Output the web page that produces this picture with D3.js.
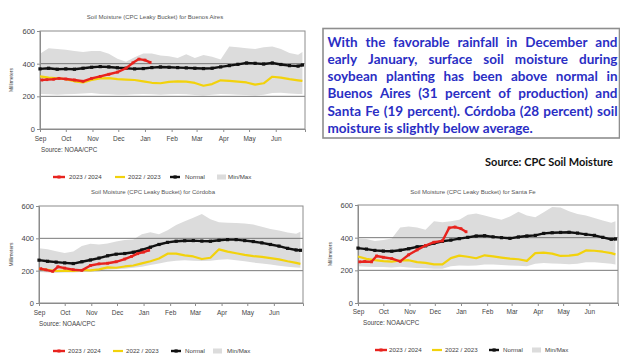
<!DOCTYPE html>
<html>
<head>
<meta charset="utf-8">
<script src="https://cdn.jsdelivr.net/npm/d3@7"></script>
<style>
  body { margin: 0; background: #fff; }
  svg { display: block; }
</style>
</head>
<body>
<svg id="chart" width="620" height="354"></svg>
<script>
// Season axis: days counted from 1 September
const monthTicks = [0, 30, 61, 91, 122, 153, 182, 213, 243, 274];
const monthLabels = ["Sep", "Oct", "Nov", "Dec", "Jan", "Feb", "Mar", "Apr", "May", "Jun"];
const valueTicks = [0, 200, 400, 600];
const seriesLabels = ["2023 / 2024", "2022 / 2023", "Normal", "Min/Max"];

// Sample days for the climatology and the previous season
const seasonDays = [0, 10, 20, 30, 40, 50, 60, 70, 80, 90, 100, 110, 120, 130, 140, 150,
                    160, 170, 180, 190, 200, 210, 220, 230, 240, 250, 260, 270, 280, 290, 300, 305];
// Sample days for the current season (runs to early January)
const currentDays = [2, 8, 16, 22, 30, 40, 50, 60, 70, 80, 90, 100, 108, 115, 122, 128];

// Buenos Aires (mm)
const baMax    = [460,495,490,485,478,472,478,478,460,430,412,440,462,462,450,445,435,457,435,453,443,425,505,500,495,490,500,505,490,465,455,472];
const baMin    = [215,212,210,212,215,218,220,215,212,210,210,212,215,212,210,212,215,212,208,205,210,215,212,210,208,205,210,220,222,218,215,215];
const baNormal = [368,372,366,368,366,372,378,382,380,375,372,368,370,376,380,378,376,374,372,370,372,380,388,396,404,402,398,404,395,388,385,392];
const baPrev   = [322,315,310,305,292,285,300,310,312,305,302,300,292,283,280,288,292,290,282,265,275,298,295,290,285,272,280,320,315,305,298,295];
const baCurrent = [300,302,305,310,306,300,292,310,322,335,348,372,405,428,422,408];

// Córdoba (mm)
const cbMax    = [338,332,320,310,318,352,366,362,368,380,390,393,425,438,425,450,482,505,528,550,518,500,496,495,492,485,472,458,448,436,428,440];
const cbMin    = [192,188,185,188,188,192,192,195,205,208,212,218,225,235,245,255,262,265,262,260,262,268,270,265,258,250,245,238,230,225,220,218];
const cbNormal = [265,258,253,248,244,255,266,278,292,302,306,314,328,345,362,375,382,385,386,383,382,388,392,392,386,380,372,362,352,338,328,326];
const cbPrev   = [212,205,198,200,198,204,202,208,220,218,226,232,245,258,275,305,305,295,288,272,280,332,318,308,298,290,285,278,270,258,248,242];
const cbCurrent = [212,205,196,224,216,206,202,232,242,246,255,272,288,305,315,326];

// Santa Fe (mm)
const sfMax    = [395,392,380,385,395,462,468,462,448,500,495,500,510,540,548,535,522,510,530,558,535,525,555,588,585,562,545,535,520,505,492,500];
const sfMin    = [225,222,220,220,218,222,218,215,212,210,210,225,230,228,230,235,235,232,230,228,225,240,245,242,240,238,240,250,250,245,240,235];
const sfNormal = [336,330,322,318,317,323,332,344,350,366,378,385,394,402,410,412,405,400,396,404,410,414,426,430,432,433,428,420,414,402,390,392];
const sfPrev   = [285,270,262,256,253,260,262,250,246,236,236,275,290,283,274,292,285,278,272,268,258,305,308,302,288,290,296,322,320,314,305,298];
const sfCurrent = [252,254,252,288,280,272,255,295,325,352,372,380,460,465,455,436];

const noteLines = [
  "With the favorable rainfall in December and",
  "early January, surface soil moisture during",
  "soybean planting has been above normal in",
  "Buenos Aires (31 percent of production) and",
  "Santa Fe (19 percent). Córdoba (28 percent) soil",
  "moisture is slightly below average."
];

const COLORS = { current: "#e8231e", prev: "#f2d20c", normal: "#111", band: "#dcdcdc", grid: "#7a7a7a", frame: "#8c8c8c", text: "#444" };
const AXIS_FONT = "'Liberation Sans', Arial, sans-serif";

const panels = [
  {
    title: "Soil Moisture (CPC Leaky Bucket) for Buenos Aires",
    max: baMax, min: baMin, normal: baNormal, prev: baPrev, current: baCurrent,
    left: 40, right: 305, top: 31, bottom: 129,
    titleX: 155, titleY: 17, monthY: 139, sourceX: 41, sourceY: 150, yLabelX: 12,
    legendY: 177, legendSym: [53, 115, 170, 217], legendText: [69, 128, 185, 228]
  },
  {
    title: "Soil Moisture (CPC Leaky Bucket) for Córdoba",
    max: cbMax, min: cbMin, normal: cbNormal, prev: cbPrev, current: cbCurrent,
    left: 39, right: 303, top: 206, bottom: 303,
    titleX: 153, titleY: 192, monthY: 313, sourceX: 39, sourceY: 324, yLabelX: 12,
    legendY: 351, legendSym: [53, 113, 171, 213], legendText: [68, 126, 185, 227]
  },
  {
    title: "Soil Moisture (CPC Leaky Bucket) for Santa Fe",
    max: sfMax, min: sfMin, normal: sfNormal, prev: sfPrev, current: sfCurrent,
    left: 358, right: 618, top: 205, bottom: 303,
    titleX: 473, titleY: 192, monthY: 312, sourceX: 363, sourceY: 323, yLabelX: 331,
    legendY: 350, legendSym: [375, 432, 489, 532], legendText: [389, 445, 503, 545]
  }
];

const svg = d3.select("#chart");

function drawPanel(p) {
  const g = svg.append("g");
  const x = d3.scaleLinear().domain([0, 308]).range([p.left, p.right]);
  const y = d3.scaleLinear().domain([0, 600]).range([p.bottom, p.top]);

  // Min/Max band
  const band = seasonDays.map((d, i) => ({ d, lo: p.min[i], hi: p.max[i] }));
  g.append("path")
    .datum(band)
    .attr("fill", COLORS.band)
    .attr("d", d3.area().x(b => x(b.d)).y0(b => y(b.lo)).y1(b => y(b.hi)));

  // Horizontal gridlines
  g.selectAll("line.grid")
    .data(valueTicks.filter(v => v > 0 && v < 600))
    .join("line")
    .attr("x1", p.left).attr("x2", p.right)
    .attr("y1", v => y(v)).attr("y2", v => y(v))
    .attr("stroke", COLORS.grid).attr("stroke-width", 1);

  // Plot frame
  g.append("rect")
    .attr("x", p.left).attr("y", p.top)
    .attr("width", p.right - p.left).attr("height", p.bottom - p.top)
    .attr("fill", "none").attr("stroke", COLORS.frame).attr("stroke-width", 1);

  // Axes
  const yAxis = d3.axisLeft(y).tickValues(valueTicks).tickSize(3).tickPadding(2);
  const yg = g.append("g").attr("transform", `translate(${p.left},0)`).call(yAxis);
  const xAxis = d3.axisBottom(x).tickValues(monthTicks).tickSize(3).tickFormat((d, i) => monthLabels[i]);
  const xg = g.append("g").attr("transform", `translate(0,${p.bottom})`).call(xAxis);
  [yg, xg].forEach(a => {
    a.select(".domain").attr("stroke", COLORS.frame);
    a.selectAll(".tick line").attr("stroke", COLORS.frame);
    a.selectAll(".tick text").attr("fill", COLORS.text).attr("font-family", AXIS_FONT);
  });
  yg.selectAll(".tick text").attr("font-size", 7.5);
  xg.selectAll(".tick text").attr("font-size", 6.5).attr("y", null).attr("dy", null)
    .attr("transform", `translate(0,${p.monthY - p.bottom})`).attr("dominant-baseline", "middle");

  // Series lines
  const line = d3.line().x(d => x(d[0])).y(d => y(d[1]));
  const prevPts = seasonDays.map((d, i) => [d, p.prev[i]]);
  const normPts = seasonDays.map((d, i) => [d, p.normal[i]]);
  const curPts = currentDays.map((d, i) => [d, p.current[i]]);

  g.append("path").datum(prevPts).attr("d", line)
    .attr("fill", "none").attr("stroke", COLORS.prev).attr("stroke-width", 2.2).attr("stroke-linejoin", "round");
  g.append("path").datum(normPts).attr("d", line)
    .attr("fill", "none").attr("stroke", COLORS.normal).attr("stroke-width", 2.4).attr("stroke-linejoin", "round");
  g.selectAll("rect.nm").data(normPts).join("rect")
    .attr("x", d => x(d[0]) - 1.6).attr("y", d => y(d[1]) - 1.6)
    .attr("width", 3.2).attr("height", 3.2).attr("fill", COLORS.normal);
  g.append("path").datum(curPts).attr("d", line)
    .attr("fill", "none").attr("stroke", COLORS.current).attr("stroke-width", 2.4).attr("stroke-linejoin", "round");
  g.selectAll("rect.cm").data(curPts).join("rect")
    .attr("x", d => x(d[0]) - 1.4).attr("y", d => y(d[1]) - 1.4)
    .attr("width", 2.8).attr("height", 2.8).attr("fill", COLORS.current);

  // Titles and notes
  g.append("text").attr("x", p.titleX).attr("y", p.titleY)
    .attr("text-anchor", "middle").attr("dominant-baseline", "middle")
    .attr("font-family", AXIS_FONT).attr("font-size", 6).attr("fill", "#555").text(p.title);
  g.append("text")
    .attr("transform", `translate(${p.yLabelX},${(p.top + p.bottom) / 2}) rotate(-90)`)
    .attr("text-anchor", "middle").attr("dominant-baseline", "middle")
    .attr("font-family", AXIS_FONT).attr("font-size", 5).attr("fill", COLORS.text).text("Millimeters");
  g.append("text").attr("x", p.sourceX).attr("y", p.sourceY)
    .attr("dominant-baseline", "middle")
    .attr("font-family", AXIS_FONT).attr("font-size", 6.3).attr("fill", COLORS.text).text("Source: NOAA/CPC");

  // Legend
  const lg = g.append("g");
  const ly = p.legendY;
  const s = p.legendSym;
  lg.append("line").attr("x1", s[0]).attr("x2", s[0] + 12).attr("y1", ly).attr("y2", ly)
    .attr("stroke", COLORS.current).attr("stroke-width", 2.4);
  lg.append("rect").attr("x", s[0] + 4.5).attr("y", ly - 1.5).attr("width", 3).attr("height", 3).attr("fill", COLORS.current);
  lg.append("line").attr("x1", s[1]).attr("x2", s[1] + 10).attr("y1", ly).attr("y2", ly)
    .attr("stroke", COLORS.prev).attr("stroke-width", 2.2);
  lg.append("line").attr("x1", s[2]).attr("x2", s[2] + 10).attr("y1", ly).attr("y2", ly)
    .attr("stroke", COLORS.normal).attr("stroke-width", 2.4);
  lg.append("rect").attr("x", s[2] + 3.5).attr("y", ly - 1.6).attr("width", 3.2).attr("height", 3.2).attr("fill", COLORS.normal);
  lg.append("rect").attr("x", s[3]).attr("y", ly - 2.5).attr("width", 9).attr("height", 5).attr("fill", COLORS.band);
  lg.selectAll("text").data(seriesLabels).join("text")
    .attr("x", (d, i) => p.legendText[i]).attr("y", ly)
    .attr("dominant-baseline", "middle")
    .attr("font-family", AXIS_FONT).attr("font-size", 6.2).attr("fill", COLORS.text)
    .text(d => d);
}

panels.forEach(drawPanel);

// Commentary box with justified text
const NOTE_FONT = "Lato, 'Open Sans', sans-serif";
const box = { left: 323, top: 28.5, right: 619.5, bottom: 138, textLeft: 327.5, textRight: 617.5, firstBase: 46.5, lineStep: 17.3 };
svg.append("rect")
  .attr("x", box.left).attr("y", box.top)
  .attr("width", box.right - box.left).attr("height", box.bottom - box.top)
  .attr("fill", "#fff").attr("stroke", "#8e8e8e").attr("stroke-width", 1.6);

const noteG = svg.append("g").attr("font-family", NOTE_FONT).attr("font-weight", 700).attr("fill", "#2a2ec4");
function measure(str, size) {
  const t = noteG.append("text").attr("font-size", size).text(str);
  const w = t.node().getComputedTextLength();
  t.remove();
  return w;
}
const textWidth = box.textRight - box.textLeft;
let noteSize = 13;
const widest = d3.max(noteLines, l => measure(l, noteSize));
noteSize = Math.min(13.5, noteSize * (textWidth - 6) / widest);
const spaceW = measure("a a", noteSize) - measure("aa", noteSize);

noteLines.forEach((ln, i) => {
  const words = ln.split(" ");
  const widths = words.map(w => measure(w, noteSize));
  const last = i === noteLines.length - 1;
  const gap = last ? spaceW : (textWidth - d3.sum(widths)) / (words.length - 1);
  const t = noteG.append("text").attr("font-size", noteSize).attr("y", box.firstBase + i * box.lineStep);
  let cx = box.textLeft;
  words.forEach((w, j) => {
    t.append("tspan").attr("x", cx).text(w);
    cx += widths[j] + gap;
  });
});

svg.append("text")
  .attr("x", 613).attr("y", 166)
  .attr("text-anchor", "end")
  .attr("font-family", NOTE_FONT).attr("font-weight", 700).attr("font-size", 11)
  .attr("fill", "#111").text("Source: CPC Soil Moisture");
</script>
</body>
</html>
